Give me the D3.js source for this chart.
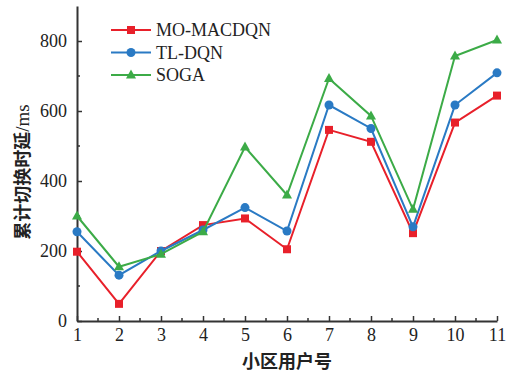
<!DOCTYPE html>
<html>
<head>
<meta charset="utf-8">
<script src="https://cdn.jsdelivr.net/npm/d3@7"></script>
<style>
  body { margin: 0; background: #fff; }
  svg text { font-family: "Liberation Serif", "Times New Roman", serif; fill: #222; }
  .cjk { font-family: "Noto Sans CJK SC", sans-serif; font-weight: bold; }
</style>
</head>
<body>
<div id="chart"></div>
<script>
// chart data
const users = [1, 2, 3, 4, 5, 6, 7, 8, 9, 10, 11];
const moMacdqn = [198, 49, 200, 274, 293, 205, 546, 512, 251, 567, 644];
const tlDqn = [255, 131, 200, 260, 324, 257, 617, 550, 269, 617, 709];
const soga = [300, 155, 191, 255, 497, 360, 693, 586, 319, 757, 803];
const yTicks = [0, 200, 400, 600, 800];
const seriesNames = ["MO-MACDQN", "TL-DQN", "SOGA"];

const series = [
    {name: seriesNames[0], values: moMacdqn, color: "#e8202a", marker: "square"},
    {name: seriesNames[1], values: tlDqn, color: "#2a7ac4", marker: "circle"},
    {name: seriesNames[2], values: soga, color: "#3cab47", marker: "triangle"}
];

const W = 510, H = 372;
const margin = {top: 6, right: 13, bottom: 51, left: 77};
const width = W - margin.left - margin.right,
      height = H - margin.top - margin.bottom;

const svg = d3.select("#chart").append("svg")
    .attr("width", W).attr("height", H);
const g = svg.append("g")
    .attr("transform", "translate(" + margin.left + "," + margin.top + ")");

const x = d3.scaleLinear().domain([1, 11]).range([0, width]);
const y = d3.scaleLinear().domain([0, 900]).range([height, 0]);

// minor ticks
const axisColor = "#333";
g.selectAll(".yminor").data(d3.range(100, 900, 200)).enter().append("line")
    .attr("x1", 0).attr("x2", 3)
    .attr("y1", d => y(d)).attr("y2", d => y(d))
    .attr("stroke", axisColor).attr("stroke-width", 1.5);
g.selectAll(".xminor").data(d3.range(1.5, 11, 1)).enter().append("line")
    .attr("x1", d => x(d)).attr("x2", d => x(d))
    .attr("y1", height).attr("y2", height - 3)
    .attr("stroke", axisColor).attr("stroke-width", 1.5);

// axes
const yAxis = g.append("g")
    .call(d3.axisLeft(y).tickValues(yTicks).tickSizeInner(-5).tickSizeOuter(0).tickPadding(10));
const xAxis = g.append("g")
    .attr("transform", "translate(0," + height + ")")
    .call(d3.axisBottom(x).tickValues(users).tickSizeInner(-5).tickSizeOuter(0).tickPadding(7)
        .tickFormat(d3.format("d")));
[yAxis, xAxis].forEach(a => {
    a.select(".domain").attr("stroke", axisColor).attr("stroke-width", 2);
    a.selectAll(".tick line").attr("stroke", axisColor).attr("stroke-width", 1.5);
    a.selectAll(".tick text").attr("font-size", 18)
        .attr("font-family", "Liberation Serif").attr("fill", "#222");
});

// axis titles
svg.append("text").attr("class", "cjk")
    .attr("transform", "translate(29,172) rotate(-90)")
    .attr("text-anchor", "middle").attr("font-size", 18)
    .text("累计切换时延")
    .append("tspan").attr("font-family", "Liberation Serif").attr("font-weight", "normal")
    .attr("font-size", 19).text("/ms");
svg.append("text").attr("class", "cjk")
    .attr("x", margin.left + width / 2).attr("y", 368)
    .attr("text-anchor", "middle").attr("font-size", 18)
    .text("小区用户号");

function drawMarker(sel, type, color) {
    if (type === "square") {
        sel.append("rect").attr("x", -4).attr("y", -4).attr("width", 8).attr("height", 8).attr("fill", color);
    } else if (type === "circle") {
        sel.append("circle").attr("r", 4.5).attr("fill", color);
    } else {
        sel.append("path").attr("d", "M0,-5.5L5,3.5L-5,3.5Z").attr("fill", color);
    }
}

const line = d3.line().x((d, i) => x(users[i])).y(d => y(d));

series.forEach(s => {
    g.append("path").datum(s.values)
        .attr("fill", "none").attr("stroke", s.color).attr("stroke-width", 2)
        .attr("d", line);
    g.selectAll(null).data(s.values).enter().append("g")
        .attr("transform", (d, i) => "translate(" + x(users[i]) + "," + y(d) + ")")
        .each(function() { drawMarker(d3.select(this), s.marker, s.color); });
});

// legend
const legend = svg.append("g").attr("transform", "translate(111,30)");
series.forEach((s, i) => {
    const row = legend.append("g").attr("transform", "translate(0," + i * 22.5 + ")");
    row.append("line").attr("x1", 0).attr("x2", 40).attr("stroke", s.color).attr("stroke-width", 2);
    drawMarker(row.append("g").attr("transform", "translate(20,0)"), s.marker, s.color);
    row.append("text").attr("x", 45).attr("y", 6).attr("font-size", 18).text(s.name);
});
</script>
</body>
</html>
